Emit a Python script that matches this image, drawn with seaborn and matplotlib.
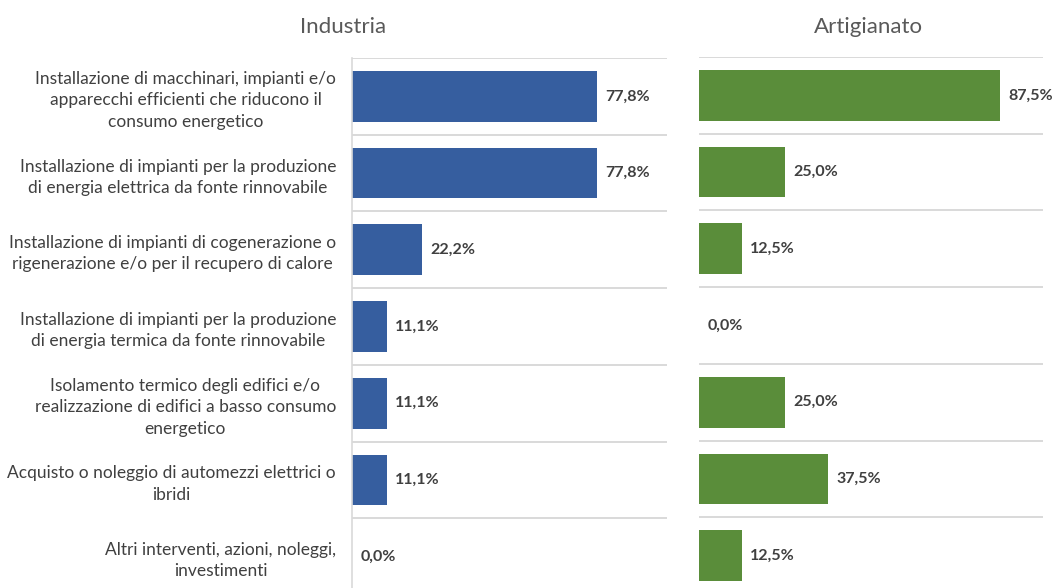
import matplotlib
matplotlib.use("Agg")
import matplotlib.pyplot as plt
import seaborn as sns
import pandas as pd
import numpy as np

categories = [
    "Installazione di macchinari, impianti e/o\napparecchi efficienti che riducono il\nconsumo energetico",
    "Installazione di impianti per la produzione\ndi energia elettrica da fonte rinnovabile",
    "Installazione di impianti di cogenerazione o\nrigenerazione e/o per il recupero di calore",
    "Installazione di impianti per la produzione\ndi energia termica da fonte rinnovabile",
    "Isolamento termico degli edifici e/o\nrealizzazione di edifici a basso consumo\nenergetico",
    "Acquisto o noleggio di automezzi elettrici o\nibridi",
    "Altri interventi, azioni, noleggi,\ninvestimenti",
]
industria = [77.8, 77.8, 22.2, 11.1, 11.1, 11.1, 0.0]
artigianato = [87.5, 25.0, 12.5, 0.0, 25.0, 37.5, 12.5]
panel_titles = ["Industria", "Artigianato"]

BLUE = "#365E9F"
GREEN = "#5A8D3A"
TEXT = "#404040"
TITLE = "#595959"
GRID = "#D9D9D9"

sns.set_theme(style="white")
plt.rcParams["font.family"] = ["Lato", "DejaVu Sans"]

W, H = 1054, 588
fig = plt.figure(figsize=(W / 100, H / 100), dpi=100)

def frac_box(x0, x1, y_top, y_bot):
    return [x0 / W, 1 - y_bot / H, (x1 - x0) / W, (y_bot - y_top) / H]

ax_l = fig.add_axes(frac_box(352, 667, 58, 595))
ax_r = fig.add_axes(frac_box(699, 1043, 57, 594))

def fmt(v):
    return f"{v:.1f}%".replace(".", ",")

def draw(ax, values, color, show_labels):
    df = pd.DataFrame({"cat": categories, "val": values})
    sns.barplot(data=df, x="val", y="cat", orient="h", color=color,
                saturation=1, width=0.66, ax=ax, linewidth=0)
    ax.set_xlim(0, 100)
    ax.set_ylim(len(categories) - 0.5, -0.5)
    ax.set_xlabel("")
    ax.set_ylabel("")
    ax.set_xticks([])
    # row separators
    ax.set_yticks(np.arange(len(categories) + 1) - 0.5, minor=True)
    ax.grid(which="minor", axis="y", color=GRID, linewidth=1.4)
    ax.grid(which="major", visible=False)
    ax.tick_params(axis="y", which="both", length=0)
    for s in ["top", "right", "bottom"]:
        ax.spines[s].set_visible(False)
    ax.set_yticks(range(len(categories)))
    if show_labels:
        ax.spines["left"].set_color(GRID)
        ax.spines["left"].set_linewidth(1.2)
        ax.tick_params(axis="y", which="major", pad=11.5)
        ax.set_yticklabels(categories, fontsize=12.5, color=TEXT,
                           ha="right", multialignment="center",
                           linespacing=1.4)
    else:
        ax.spines["left"].set_visible(False)
        ax.set_yticklabels([])
    for i, v in enumerate(values):
        ax.annotate(fmt(v), xy=(v, i), xytext=(6, 0), textcoords="offset points",
                    va="center", ha="left", fontsize=11.5, fontweight="bold",
                    color=TEXT)
    ax.set_axisbelow(True)

draw(ax_l, industria, BLUE, True)
draw(ax_r, artigianato, GREEN, False)

fig.text(343 / W, 1 - 27 / H, panel_titles[0], ha="center", va="center",
         fontsize=16, color=TITLE)
fig.text(868 / W, 1 - 27 / H, panel_titles[1], ha="center", va="center",
         fontsize=16, color=TITLE)

fig.savefig("out.png", dpi=100, facecolor="white")
